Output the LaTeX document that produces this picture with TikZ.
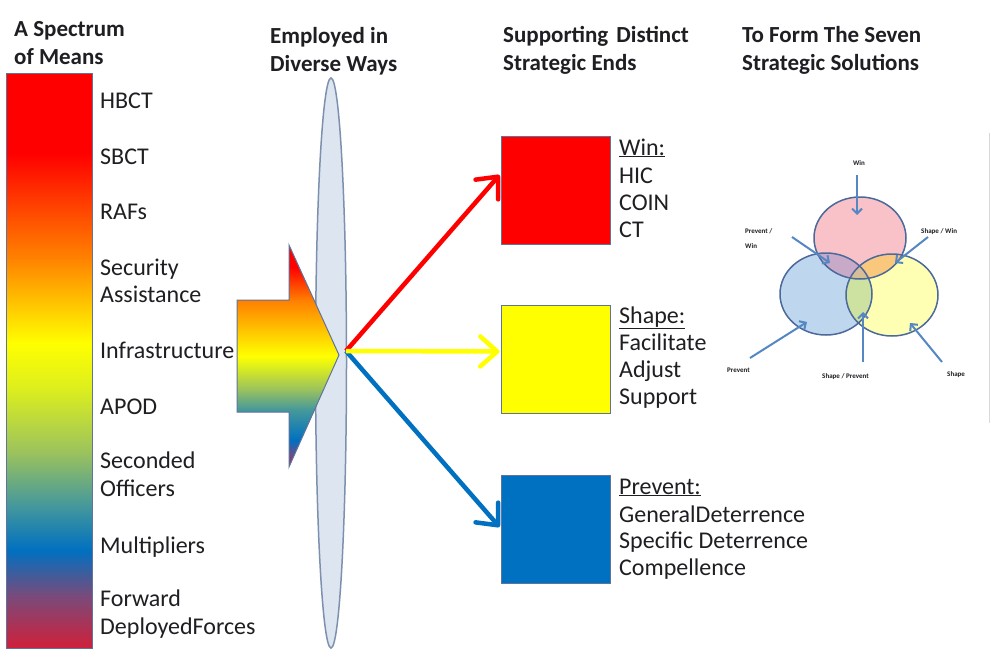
\documentclass[tikz,border=0pt]{standalone}
\usepackage{fontspec}
\setmainfont{Carlito}
\usetikzlibrary{shapes.geometric,arrows.meta,calc}
\definecolor{txt}{RGB}{30,30,35}
\definecolor{sp0}{RGB}{208,32,58}
\definecolor{sp1}{RGB}{122,74,122}
\definecolor{sp2}{RGB}{0,112,192}
\definecolor{sp3}{RGB}{71,153,154}
\definecolor{sp4}{RGB}{155,194,93}
\definecolor{sp5}{RGB}{220,238,30}
\definecolor{sp6}{RGB}{255,255,0}
\definecolor{sp7}{RGB}{255,128,0}
\definecolor{sp8}{RGB}{255,0,0}
\definecolor{ap0}{RGB}{170,40,90}
\definecolor{ap1}{RGB}{100,80,140}
\definecolor{redc}{RGB}{255,0,0}
\definecolor{yelc}{RGB}{255,255,0}
\definecolor{bluc}{RGB}{0,112,192}
\definecolor{edgec}{RGB}{95,115,155}
\definecolor{lensfill}{RGB}{221,229,241}
\definecolor{lensedge}{RGB}{125,145,175}
\definecolor{vpink}{RGB}{248,194,200}
\definecolor{vblue}{RGB}{190,215,238}
\definecolor{vyel}{RGB}{255,255,180}
\definecolor{vmauve}{RGB}{200,170,200}
\definecolor{vorange}{RGB}{250,200,125}
\definecolor{vgreen}{RGB}{205,225,160}
\definecolor{vtan}{RGB}{215,190,150}
\definecolor{vedge}{RGB}{75,105,155}
\definecolor{varrow}{RGB}{85,135,195}
\pgfdeclareverticalshading{spectrum}{100bp}{color(0bp)=(sp0); color(25bp)=(sp0); color(29.5bp)=(sp1); color(33.5bp)=(sp2); color(37.5bp)=(sp3); color(42bp)=(sp4); color(47.5bp)=(sp5); color(51.5bp)=(sp6); color(59bp)=(sp7); color(68bp)=(sp8); color(75bp)=(sp8); color(100bp)=(sp8)}
\pgfdeclareverticalshading{arrowspec}{100bp}{color(0bp)=(ap0); color(25bp)=(ap0); color(28bp)=(ap1); color(31bp)=(sp2); color(38bp)=(sp3); color(42.5bp)=(sp4); color(47.5bp)=(sp5); color(50bp)=(sp6); color(62.5bp)=(sp7); color(70bp)=(sp8); color(75bp)=(sp8); color(100bp)=(sp8)}
\begin{document}
\begin{tikzpicture}[x=1pt,y=-1pt,
  title/.style={anchor=base west, inner sep=0pt, font=\fontsize{23}{27}\selectfont\bfseries, text=txt},
  lbl/.style={anchor=base west, inner sep=0pt, font=\fontsize{24}{28}\selectfont, text=txt},
  tiny/.style={anchor=west, inner sep=0pt, font=\fontsize{7}{8}\selectfont\bfseries, text=txt},
  endbox/.style={draw=edgec, line width=1pt, minimum width=109pt, minimum height=108pt, inner sep=0pt},
  bigarrow/.style={line width=4.5pt, -{Straight Barb[length=17pt,width=30pt,round]}},
  vennarrow/.style={draw=varrow, line width=2pt, -{Straight Barb[length=5pt,width=10pt]}}]
\useasboundingbox (0,0) rectangle (994,656);
\fill[white] (0,0) rectangle (994,656);

% titles
\node[title] (t1a) at (14,36) {A Spectrum};
\node[title] (t1b) at (14,64) {of Means};
\node[title] (t2a) at (270,43) {Employed in};
\node[title] (t2b) at (270,71) {Diverse Ways};
\node[title] (t3a) at (503,42) {Supporting\hspace{0.35em}Distinct};
\node[title] (t3b) at (503,70) {Strategic Ends};
\node[title] (t4a) at (742,42) {To Form The Seven};
\node[title] (t4b) at (742,70) {Strategic Solutions};

% spectrum bar
\shadedraw[shading=spectrum, draw=edgec, line width=1pt] (6,73) rectangle (92,648);

% means labels
\node[lbl] (m1) at (100,108) {HBCT};
\node[lbl] (m2) at (100,164) {SBCT};
\node[lbl] (m3) at (100,219) {RAFs};
\node[lbl] (m4a) at (100,275) {Security};
\node[lbl] (m4b) at (100,302) {Assistance};
\node[lbl] (m5) at (100,358) {Infrastructure};
\node[lbl] (m6) at (100,414) {APOD};
\node[lbl] (m7a) at (100,468) {Seconded};
\node[lbl] (m7b) at (100,496) {Officers};
\node[lbl] (m8) at (100,553) {Multipliers};
\node[lbl] (m9a) at (100,606) {Forward};
\node[lbl] (m9b) at (100,634) {DeployedForces};

% lens
\node[ellipse, draw=lensedge, fill=lensfill, line width=1.5pt, minimum width=31pt, minimum height=570pt, inner sep=0pt] (lens) at (331,363) {};

% big arrow
\shadedraw[shading=arrowspec, draw=edgec, line width=1pt] (237,300) -- (289,300) -- (289,245) -- (339,355) -- (289,467) -- (289,412) -- (237,412) -- cycle;

% end boxes
\node[endbox, fill=redc] (winbox) at (555.5,190) {};
\node[endbox, fill=yelc] (shapebox) at (555.5,359.5) {};
\node[endbox, fill=bluc] (prevbox) at (555.5,529) {};

\coordinate (src) at (346,351);
\draw[bigarrow, redc] (src) -- ($(winbox.west)+(-1,-15)$);
\draw[bigarrow, bluc] (src) -- ($(prevbox.west)+(-1,-2)$);
\draw[bigarrow, yelc] (src) -- ($(shapebox.west)+(-1,-8)$);

% end labels
\node[lbl] (w0) at (619,155) {\underline{Win:}};
\node[lbl] (w1) at (619,183) {HIC};
\node[lbl] (w2) at (619,210) {COIN};
\node[lbl] (w3) at (619,237) {CT};
\node[lbl] (s0) at (619,323) {\underline{Shape:}};
\node[lbl] (s1) at (619,350) {Facilitate};
\node[lbl] (s2) at (619,377) {Adjust};
\node[lbl] (s3) at (619,404) {Support};
\node[lbl] (p0) at (619,494) {\underline{Prevent:}};
\node[lbl] (p1) at (619,522) {GeneralDeterrence};
\node[lbl] (p2) at (619,548) {Specific Deterrence};
\node[lbl] (p3) at (619,575) {Compellence};

% Venn diagram
\coordinate (vr) at (860,238);
\coordinate (vb) at (826,294);
\coordinate (vy) at (892,295);
\fill[vpink] (vr) ellipse [x radius=46, y radius=41];
\fill[vblue] (vb) ellipse [x radius=46, y radius=41];
\fill[vyel] (vy) ellipse [x radius=46, y radius=41];
\begin{scope}
  \clip (vr) ellipse [x radius=46, y radius=41];
  \fill[vmauve] (vb) ellipse [x radius=46, y radius=41];
\end{scope}
\begin{scope}
  \clip (vr) ellipse [x radius=46, y radius=41];
  \fill[vorange] (vy) ellipse [x radius=46, y radius=41];
\end{scope}
\begin{scope}
  \clip (vb) ellipse [x radius=46, y radius=41];
  \fill[vgreen] (vy) ellipse [x radius=46, y radius=41];
\end{scope}
\begin{scope}
  \clip (vr) ellipse [x radius=46, y radius=41];
  \clip (vb) ellipse [x radius=46, y radius=41];
  \fill[vtan] (vy) ellipse [x radius=46, y radius=41];
\end{scope}
\draw[vedge, line width=1.5pt] (vr) ellipse [x radius=46, y radius=41];
\draw[vedge, line width=1.5pt] (vb) ellipse [x radius=46, y radius=41];
\draw[vedge, line width=1.5pt] (vy) ellipse [x radius=46, y radius=41];

% Venn labels
\node[tiny, anchor=center] (lw) at (859,163) {Win};
\node[tiny] (lpw1) at (745,231) {Prevent /};
\node[tiny] (lpw2) at (745,246) {Win};
\node[tiny] (lsw) at (921,232) {Shape / Win};
\node[tiny] (lp) at (727,370) {Prevent};
\node[tiny] (lsp) at (822,377) {Shape / Prevent};
\node[tiny] (ls) at (947,375) {Shape};

\coordinate (aw) at (857,215);
\coordinate (apw) at (830,263);
\coordinate (asw) at (895,263);
\coordinate (ap) at (807,322);
\coordinate (asp) at (863,312);
\coordinate (as) at (910,323);
\draw[vennarrow] (857,175) -- (aw);
\draw[vennarrow] (792,237) -- (apw);
\draw[vennarrow] (928,237) -- (asw);
\draw[vennarrow] (750,358) -- (ap);
\draw[vennarrow] (863,362) -- (asp);
\draw[vennarrow] (942,362) -- (as);

% faint frame edge of inset
\draw[black!15, line width=1pt] (989,133) -- (989,423);
\end{tikzpicture}
\end{document}
